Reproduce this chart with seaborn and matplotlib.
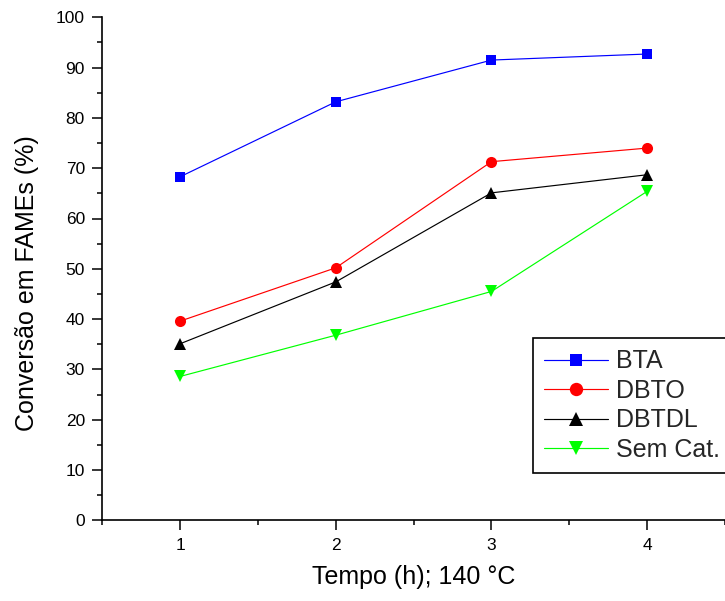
import matplotlib
matplotlib.use("Agg")
import matplotlib.pyplot as plt
import seaborn as sns
import pandas as pd
from matplotlib.ticker import MultipleLocator

sns.set_theme(style="ticks")
plt.rcParams['font.family'] = ['Liberation Sans', 'DejaVu Sans']

tempo = [1, 2, 3, 4]
bta = [68.3, 83.2, 91.5, 92.7]
dbto = [39.6, 50.2, 71.3, 74.0]
dbtdl = [35.1, 47.4, 65.1, 68.7]
sem_cat = [28.6, 36.8, 45.5, 65.4]

series = ["BTA", "DBTO", "DBTDL", "Sem Cat."]
values = [bta, dbto, dbtdl, sem_cat]
colors = ["#0000ff", "#ff0000", "#000000", "#00ff00"]
markers = ["s", "o", "^", "v"]
msizes = [7.3, 8.0, 8.6, 8.6]

rows = []
for name, vals in zip(series, values):
    for t, v in zip(tempo, vals):
        rows.append({"Tempo": t, "Conv": v, "Serie": name})
df = pd.DataFrame(rows)

fig = plt.figure(figsize=(7.25, 6.01), dpi=100)
ax = fig.add_axes([102.3 / 725, (601 - 520.3) / 601, 1 - 102.3 / 725, (520.3 - 17.3) / 601])

for name, col, mk, ms in zip(series, colors, markers, msizes):
    sns.lineplot(data=df[df["Serie"] == name], x="Tempo", y="Conv", ax=ax,
                 color=col, marker=mk, markersize=ms, markeredgewidth=0,
                 linewidth=0.85, label=name)

ax.set_xlim(0.5, 4.5)
ax.set_ylim(0, 100)
ax.xaxis.set_major_locator(MultipleLocator(1))
ax.xaxis.set_minor_locator(MultipleLocator(0.5))
ax.yaxis.set_major_locator(MultipleLocator(10))
ax.yaxis.set_minor_locator(MultipleLocator(5))
ax.tick_params(which="major", direction="out", length=7.5, width=1.1, labelsize=12.5, pad=5, color="black", labelcolor="black")
ax.tick_params(which="minor", direction="out", length=3.6, width=1.1, color="black")
for s in ["top", "right"]:
    ax.spines[s].set_visible(False)
for s in ["left", "bottom"]:
    ax.spines[s].set_linewidth(1.2)
    ax.spines[s].set_color("black")

ax.set_xlabel("Tempo (h); 140 °C", fontsize=18, labelpad=9, color="black")
ax.set_ylabel("Conversão em FAMEs (%)", fontsize=18, color="black")
ax.yaxis.set_label_coords(-0.101, 0.471)

leg = ax.legend(loc="upper left", bbox_to_anchor=(0.692, 0.3624), fontsize=18,
                frameon=True, fancybox=False, shadow=False, handlelength=2.55,
                handletextpad=0.3, labelspacing=0.22, borderpad=0.45, borderaxespad=0,
                markerscale=1.2)
leg.get_frame().set_edgecolor("black")
leg.get_frame().set_linewidth(1.2)
leg.get_frame().set_alpha(1)

fig.savefig("out.png", dpi=100)
